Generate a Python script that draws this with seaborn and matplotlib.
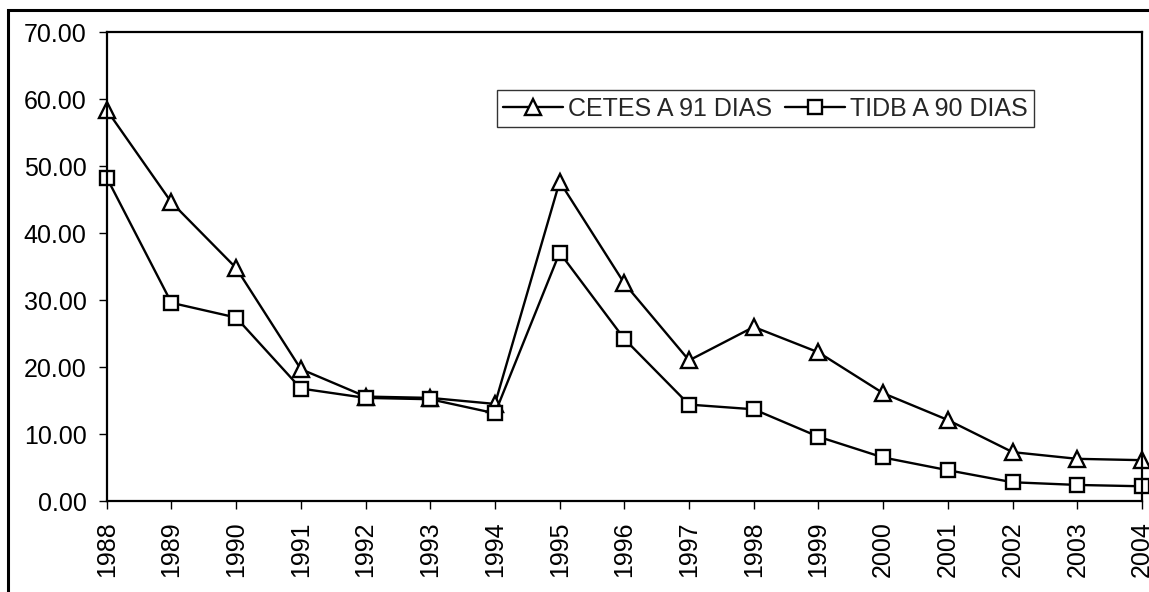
import numpy as np
import matplotlib
matplotlib.use("Agg")
import matplotlib.pyplot as plt
import seaborn as sns
import pandas as pd
from matplotlib.patches import Rectangle

years = list(range(1988, 2005))
cetes = [58.4, 44.6, 34.8, 19.7, 15.6, 15.4, 14.5, 47.7, 32.5, 21.0,
         26.0, 22.2, 16.1, 12.1, 7.3, 6.3, 6.1]
tidb = [48.3, 29.6, 27.4, 16.8, 15.4, 15.2, 13.1, 37.1, 24.2, 14.4,
        13.7, 9.6, 6.5, 4.6, 2.8, 2.4, 2.2]

df = pd.DataFrame({'year': years, 'CETES A 91 DIAS': cetes, 'TIDB A 90 DIAS': tidb})

sns.set_style('ticks')
plt.rcParams['font.family'] = ['Liberation Sans', 'DejaVu Sans']

fig = plt.figure(figsize=(11.49, 5.92), dpi=100)
ax = fig.add_axes([0.0929, 0.1537, 0.9010, 0.7917])

# outer frame around the whole chart
fig.patches.append(Rectangle((8 / 1149, -0.05), 1.2, 1 - 10 / 592 + 0.05,
                             transform=fig.transFigure, fill=False,
                             edgecolor='black', linewidth=2.2))

common = dict(color='black', linewidth=1.7, markerfacecolor='white',
              markeredgecolor='black', markeredgewidth=1.7, clip_on=False)
sns.lineplot(data=df, x='year', y='CETES A 91 DIAS', marker='^', markersize=12,
             label='CETES A 91 DIAS', ax=ax, **common)
sns.lineplot(data=df, x='year', y='TIDB A 90 DIAS', marker='s', markersize=10,
             label='TIDB A 90 DIAS', ax=ax, **common)

ax.set_xlim(1988, 2004)
ax.set_ylim(0, 70)
ax.set_xticks(years)
ax.set_xticklabels([str(y) for y in years], rotation=90)
ax.set_yticks(np.arange(0, 71, 10))
ax.set_yticklabels([f'{v:.2f}' for v in np.arange(0, 71, 10)])
ax.set_xlabel('')
ax.set_ylabel('')
ax.tick_params(axis='both', labelsize=18, direction='out', length=6,
               width=1, color='black', labelcolor='black', pad=8.5)
for s in ax.spines.values():
    s.set_visible(True)
    s.set_color('black')
    s.set_linewidth(1.6)

leg = ax.legend(loc='center', bbox_to_anchor=(0.636, 0.837), ncol=2,
                fontsize=18, frameon=True, fancybox=False, handlelength=2.4,
                columnspacing=0.5, handletextpad=0.2, borderpad=0.25,
                borderaxespad=0)
leg.get_frame().set_edgecolor('black')
leg.get_frame().set_linewidth(1.0)

fig.savefig('out.png', dpi=100)
